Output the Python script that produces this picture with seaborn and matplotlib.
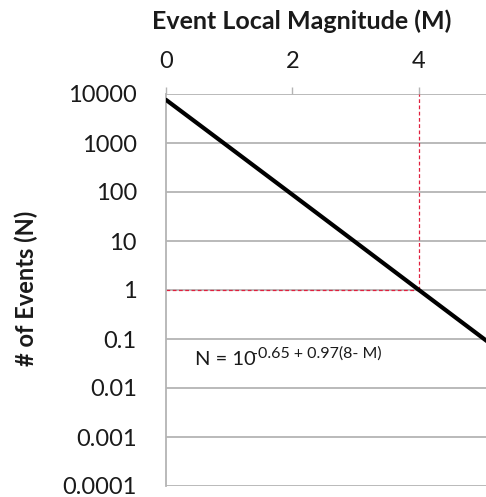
import pandas as pd
import matplotlib.pyplot as plt
import seaborn as sns

# values
magnitude = [0, 1, 2, 3, 4, 5, 5.5]
events = [7600, 820, 88, 9.4, 1.0, 0.107, 0.035]
ref_magnitude = 4
ref_events = 1
x_ticks = [0, 2, 4]
y_ticks = [0.0001, 0.001, 0.01, 0.1, 1, 10, 100, 1000, 10000]
y_tick_labels = ["0.0001", "0.001", "0.01", "0.1", "1", "10", "100", "1000", "10000"]

sns.set_style("white")
plt.rcParams['font.family'] = ['Lato', 'DejaVu Sans']

df = pd.DataFrame({"M": magnitude, "N": events})

fig = plt.figure(figsize=(4.86, 4.97), dpi=100)
ax = fig.add_axes([166 / 486, 11 / 497, 1 - 166 / 486, 392 / 497])

#grid
ax.set_yscale("log")
ax.set_ylim(0.0001, 10000)
ax.set_xlim(0, 5.06)
ax.set_yticks(y_ticks)
ax.set_yticklabels(y_tick_labels)
ax.minorticks_off()
ax.grid(axis="y", color="#b4b4b4", linewidth=1.3)
ax.set_axisbelow(True)

#red guide lines
ax.plot([ref_magnitude, ref_magnitude], [ref_events, 10000], color="#e0203e",
        linestyle=(0, (3, 2)), linewidth=0.9, zorder=2)
ax.plot([0, ref_magnitude], [ref_events, ref_events], color="#e0203e",
        linestyle=(0, (3, 2)), linewidth=0.9, zorder=2)

#main line
sns.lineplot(data=df, x="M", y="N", ax=ax, color="black", linewidth=3, zorder=3)

ax.xaxis.tick_top()
ax.set_xticks(x_ticks)
ax.set_xlabel("")
ax.set_ylabel("")
ax.tick_params(axis="x", direction="out", length=5, width=1, color="#b4b4b4",
               labelsize=17, pad=11, labelcolor="#1a1a1a")
ax.tick_params(axis="y", direction="out", length=7, width=1.3, color="#b4b4b4",
               labelsize=17, pad=14, labelcolor="#1a1a1a")

for s in ["right", "bottom", "top"]:
    ax.spines[s].set_visible(False)
ax.spines["left"].set_color("#b4b4b4")
ax.spines["left"].set_linewidth(1.3)

#equation, base and exponent as two texts so the hyphen stays a hyphen
fig.text(195 / 486, 1 - 365 / 497, "N = 10", fontsize=14.5, color="#1a1a1a",
         va="baseline")
fig.text(252 / 486, 1 - 358 / 497, "-0.65 + 0.97(8- M)", fontsize=11.5,
         color="#1a1a1a", va="baseline")

fig.text(0.62, 0.958, "Event Local Magnitude (M)", fontsize=18, fontweight="bold",
         ha="center", va="center", color="#1a1a1a")
fig.text(0.055, 0.42, "# of Events (N)", fontsize=17, fontweight="bold",
         rotation=90, ha="center", va="center", color="#1a1a1a")

plt.savefig("out.png", dpi=100)
